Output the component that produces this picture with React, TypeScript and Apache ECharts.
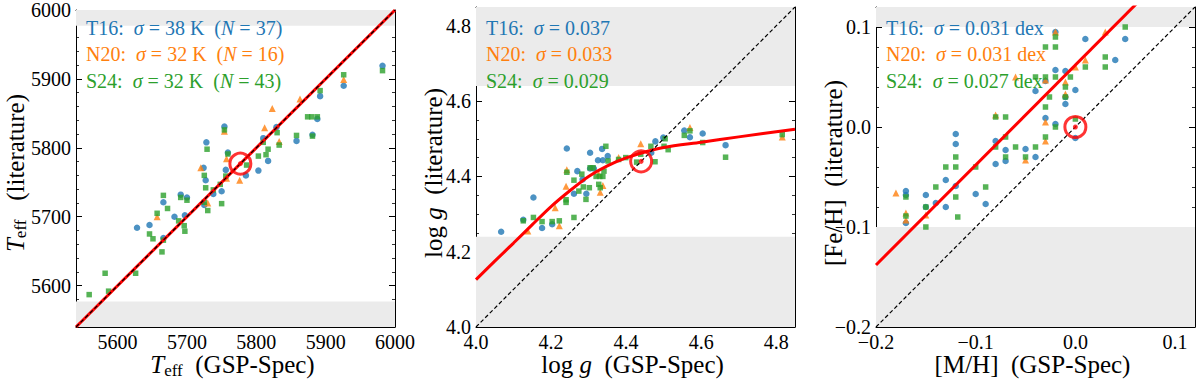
import React, { useEffect, useRef } from 'react';
import * as echarts from 'echarts';

const SERIF = 'Liberation Serif';
const BLUE = '#1f77b4';
const ORANGE = '#ff7f0e';
const GREEN = '#2ca02c';
const RED = '#ff0000';
const BAND = '#ebebeb';

// ---------- axis ranges & ticks ----------
const TEFF_RANGE = [5540, 6000];
const LOGG_RANGE = [4.0, 4.85];
const MH_RANGE = [-0.2, 0.12];
const TEFF_TICKS = [5600, 5700, 5800, 5900, 6000];
const LOGG_TICKS = [4.0, 4.2, 4.4, 4.6, 4.8];
const MH_TICKS = [-0.2, -0.1, 0.0, 0.1];
const MINOR_STEPS = [20, 0.05, 0.02];

// ---------- Sun reference & bands (outside ±) ----------
const SUN_TEFF = 5777;
const SUN_LOGG = 4.44;
const SUN_MH = 0.0;
const TEFF_BANDS = [[5540, 5577], [5977, 6000]];
const LOGG_BANDS = [[4.0, 4.24], [4.64, 4.85]];
const MH_BANDS = [[-0.2, -0.1], [0.1, 0.12]];

// ---------- Teff panel ----------
const TEFF_T16 = [[5628,5684],[5646,5688],[5666,5669],[5666,5721],[5682,5700],[5691,5732],[5700,5728],[5697,5702],[5724,5771],[5727,5753],[5728,5808],[5725,5717],[5738,5733],[5750,5737],[5754,5831],[5756,5768],[5759,5793],[5785,5760],[5803,5767],[5810,5814],[5817,5781],[5829,5830],[5858,5810],[5888,5842],[5881,5819],[5892,5875],[5926,5890],[5982,5919]];
const TEFF_N20 = [[5657,5700],[5720,5771],[5730,5720],[5754,5824],[5757,5784],[5757,5756],[5776,5753],[5812,5829],[5823,5857],[5833,5809],[5863,5871],[5926,5899]];
const TEFF_S24 = [[5559,5587],[5582,5618],[5587,5592],[5626,5618],[5646,5675],[5651,5668],[5664,5649],[5666,5666],[5666,5731],[5672,5712],[5657,5705],[5688,5694],[5691,5728],[5700,5724],[5696,5687],[5697,5679],[5725,5760],[5727,5742],[5729,5798],[5725,5721],[5730,5709],[5738,5739],[5748,5747],[5750,5719],[5754,5826],[5759,5791],[5756,5759],[5786,5775],[5803,5788],[5810,5808],[5814,5790],[5817,5798],[5830,5822],[5833,5804],[5858,5818],[5874,5845],[5880,5845],[5888,5845],[5881,5817],[5892,5883],[5926,5906],[5982,5912]];
const TEFF_FIT = [[5540, 5540], [6000, 6000]];

// ---------- log g panel ----------
const LOGG_T16 = [[4.067,4.253],[4.126,4.285],[4.153,4.344],[4.176,4.263],[4.203,4.273],[4.242,4.474],[4.270,4.414],[4.261,4.354],[4.284,4.392],[4.304,4.463],[4.325,4.443],[4.338,4.443],[4.336,4.473],[4.351,4.454],[4.294,4.354],[4.304,4.421],[4.314,4.421],[4.467,4.463],[4.478,4.493],[4.499,4.503],[4.555,4.522],[4.570,4.504],[4.604,4.514],[4.665,4.483]];
const LOGG_N20 = [[4.138,4.255],[4.222,4.269],[4.211,4.317],[4.242,4.418],[4.240,4.374],[4.327,4.406],[4.338,4.376],[4.331,4.358],[4.380,4.450],[4.439,4.487],[4.570,4.530],[4.816,4.505]];
const LOGG_S24 = [[4.126,4.282],[4.153,4.291],[4.176,4.280],[4.203,4.280],[4.222,4.282],[4.242,4.411],[4.261,4.390],[4.261,4.291],[4.240,4.338],[4.240,4.331],[4.274,4.361],[4.286,4.372],[4.282,4.406],[4.346,4.480],[4.352,4.441],[4.293,4.339],[4.304,4.423],[4.312,4.423],[4.302,4.370],[4.320,4.400],[4.330,4.400],[4.327,4.379],[4.331,4.370],[4.341,4.414],[4.338,4.400],[4.380,4.445],[4.399,4.450],[4.439,4.459],[4.428,4.438],[4.466,4.480],[4.477,4.439],[4.504,4.500],[4.501,4.480],[4.512,4.471],[4.555,4.509],[4.570,4.521],[4.604,4.490],[4.665,4.451],[4.816,4.511]];
const LOGG_FIT = [[4.00,4.126],[4.05,4.175],[4.10,4.223],[4.15,4.272],[4.20,4.320],[4.25,4.362],[4.30,4.400],[4.35,4.428],[4.40,4.449],[4.45,4.465],[4.50,4.477],[4.60,4.491],[4.70,4.505],[4.85,4.525]];

// ---------- [M/H] panel ----------
const MH_T16 = [[-0.17,-0.064],[-0.17,-0.068],[-0.17,-0.096],[-0.15,-0.068],[-0.15,-0.080],[-0.14,-0.076],[-0.13,-0.053],[-0.13,-0.080],[-0.12,-0.007],[-0.12,-0.017],[-0.12,-0.059],[-0.10,-0.067],[-0.09,-0.077],[-0.08,-0.014],[-0.08,-0.037],[-0.07,-0.023],[-0.07,-0.034],[-0.05,-0.022],[-0.04,-0.030],[-0.04,0.036],[-0.03,0.046],[-0.03,0.009],[-0.02,0.095],[-0.02,0.057],[-0.02,0.003],[-0.01,0.056],[-0.01,0.030],[-0.01,0.023],[0.00,0.037],[0.00,-0.011],[0.01,0.088],[0.04,0.067],[0.05,0.088]];
const MH_N20 = [[-0.18,-0.066],[-0.17,-0.086],[-0.17,-0.093],[-0.15,-0.088],[-0.08,0.012],[-0.06,0.050],[-0.05,-0.033],[-0.03,0.047],[-0.03,0.005],[-0.03,-0.014],[-0.02,0.095],[-0.01,0.045],[-0.01,0.033],[0.00,0.060],[0.01,0.067],[0.03,0.095]];
const MH_S24 = [[-0.17,-0.070],[-0.17,-0.089],[-0.15,-0.080],[-0.15,-0.100],[-0.14,-0.060],[-0.13,-0.040],[-0.12,-0.030],[-0.12,-0.040],[-0.12,-0.070],[-0.118,-0.090],[-0.10,-0.040],[-0.09,-0.060],[-0.08,0.010],[-0.08,-0.020],[-0.07,0.010],[-0.07,-0.010],[-0.07,-0.030],[-0.06,-0.020],[-0.05,-0.030],[-0.04,-0.020],[-0.04,0.050],[-0.03,0.080],[-0.03,0.050],[-0.03,0.020],[-0.03,-0.010],[-0.026,0.030],[-0.02,0.090],[-0.02,0.080],[-0.02,0.050],[-0.02,0.000],[-0.01,0.040],[-0.01,0.030],[-0.005,0.050],[0.00,0.008],[0.01,0.060],[0.03,0.070],[0.03,0.060],[0.05,0.100]];
const MH_FIT = [[-0.2, -0.138], [0.12, 0.182]];

// ---------- legend texts ----------
const TEFF_LEGEND = [
  ['T16', '38 K', '37'],
  ['N20', '32 K', '16'],
  ['S24', '32 K', '43'],
];
const LOGG_LEGEND = [['T16', '0.037'], ['N20', '0.033'], ['S24', '0.029']];
const MH_LEGEND = [['T16', '0.031 dex'], ['N20', '0.031 dex'], ['S24', '0.027 dex']];
const LEGEND_COLORS = [BLUE, ORANGE, GREEN];

// ---------- layout ----------
const GRID_LEFTS = [76, 476, 876];
const GRID_TOP = 7;
const GRID_W = 319;
const GRID_H = 320;

const fmtPlain = (v: number) => String(v);
const fmt1 = (v: number) => v.toFixed(1);
const fmtMinus = (v: number) => (v < -1e-9 ? '\u2212' : '') + Math.abs(v).toFixed(1);

const PANELS = [
  { range: TEFF_RANGE, ticks: TEFF_TICKS, fmt: fmtPlain, t16: TEFF_T16, n20: TEFF_N20, s24: TEFF_S24, fit: TEFF_FIT, smooth: false, sun: SUN_TEFF, bands: TEFF_BANDS,
    xTitle: '{i|T}{s|eff}{n|  (GSP-Spec)}', yTitle: '{i|T}{s|eff}{n|   (literature)}', yTitleX: 15,
    legend: TEFF_LEGEND.map(([a, s, n]) => `{n|${a}:  }{i|σ}{n| = ${s}  (}{i|N}{n| = ${n})}`) },
  { range: LOGG_RANGE, ticks: LOGG_TICKS, fmt: fmt1, t16: LOGG_T16, n20: LOGG_N20, s24: LOGG_S24, fit: LOGG_FIT, smooth: 0.3, sun: SUN_LOGG, bands: LOGG_BANDS,
    xTitle: '{n|log }{i|g}{n|  (GSP-Spec)}', yTitle: '{n|log }{i|g}{n|  (literature)}', yTitleX: 433,
    legend: LOGG_LEGEND.map(([a, s]) => `{n|${a}:  }{i|σ}{n| = ${s}}`) },
  { range: MH_RANGE, ticks: MH_TICKS, fmt: fmtMinus, t16: MH_T16, n20: MH_N20, s24: MH_S24, fit: MH_FIT, smooth: false, sun: SUN_MH, bands: MH_BANDS,
    xTitle: '{n|[M/H]  (GSP-Spec)}', yTitle: '{n|[Fe/H]  (literature)}', yTitleX: 833,
    legend: MH_LEGEND.map(([a, s]) => `{n|${a}:  }{i|σ}{n| = ${s}}`) },
];

function richStyles(size: number, color: string) {
  const lh = Math.round(size * 0.96);
  const sub = Math.round(size * 0.68);
  const drop = Math.round(size * 0.36);
  return {
    n: { fontFamily: SERIF, fontSize: size, fill: color, color, lineHeight: lh, verticalAlign: 'middle' },
    i: { fontFamily: SERIF, fontSize: size, fill: color, color, fontStyle: 'italic', lineHeight: lh, verticalAlign: 'middle' },
    s: { fontFamily: SERIF, fontSize: sub, fill: color, color, lineHeight: drop, verticalAlign: 'top', padding: [drop, 0, 0, 0] },
  };
}

function buildAxes(dim: 'x' | 'y', g: number, p: any) {
  const common = {
    gridIndex: g,
    type: 'value',
    min: p.range[0],
    max: p.range[1],
    splitLine: { show: false },
  };
  const lineOn = { show: true, onZero: false, lineStyle: { color: '#000', width: 1 } };
  const lineOff = { show: false, onZero: false };
  const posA = dim === 'x' ? 'bottom' : 'left';
  const posB = dim === 'x' ? 'top' : 'right';
  const majorTick = { show: true, inside: true, length: 6, customValues: p.ticks, lineStyle: { color: '#000', width: 1 } };
  const minorTick = { show: true, inside: true, length: 3, lineStyle: { color: '#000', width: 0.8 } };
  return [
    {
      ...common, position: posA, axisLine: lineOn, axisTick: majorTick,
      axisLabel: { show: true, customValues: p.ticks, formatter: p.fmt, fontFamily: SERIF, fontSize: 20, color: '#000', margin: 5 },
    },
    { ...common, position: posA, interval: MINOR_STEPS[g], axisLine: lineOff, axisTick: minorTick, axisLabel: { show: false } },
    { ...common, position: posB, axisLine: lineOn, axisTick: majorTick, axisLabel: { show: false } },
    { ...common, position: posB, interval: MINOR_STEPS[g], axisLine: lineOff, axisTick: minorTick, axisLabel: { show: false } },
  ];
}

function buildOption() {
  const grid = GRID_LEFTS.map((l) => ({ left: l, top: GRID_TOP, width: GRID_W, height: GRID_H, containLabel: false }));
  const xAxis: any[] = [];
  const yAxis: any[] = [];
  const series: any[] = [];
  const graphic: any[] = [];

  PANELS.forEach((p, g) => {
    xAxis.push(...buildAxes('x', g, p));
    yAxis.push(...buildAxes('y', g, p));
    const ax = { xAxisIndex: g * 4, yAxisIndex: g * 4 };
    series.push({
      type: 'line', ...ax, data: [], silent: true, z: 1,
      markArea: {
        silent: true,
        itemStyle: { color: BAND },
        data: p.bands.map(([a, b]: number[]) => [{ xAxis: p.range[0], yAxis: a }, { xAxis: p.range[1], yAxis: b }]),
      },
    });
    series.push({ type: 'scatter', ...ax, data: p.t16, symbol: 'circle', symbolSize: 6.5, itemStyle: { color: BLUE }, z: 2, silent: true });
    series.push({ type: 'scatter', ...ax, data: p.n20, symbol: 'triangle', symbolSize: 7, itemStyle: { color: ORANGE }, z: 2, silent: true });
    series.push({ type: 'scatter', ...ax, data: p.s24, symbol: 'rect', symbolSize: 5.5, itemStyle: { color: GREEN }, z: 2, silent: true });
    series.push({ type: 'line', ...ax, data: p.fit, smooth: p.smooth, symbol: 'none', showSymbol: false, lineStyle: { color: RED, width: 3 }, z: 3, silent: true, clip: true });
    series.push({
      type: 'line', ...ax, data: [[p.range[0], p.range[0]], [p.range[1], p.range[1]]], symbol: 'none', showSymbol: false,
      lineStyle: { color: '#000', width: 1.2, type: [4, 2.5] }, z: 4, silent: true,
    });
    series.push({ type: 'scatter', ...ax, data: [[p.sun, p.sun]], symbol: 'circle', symbolSize: 21, itemStyle: { color: 'rgba(255,255,255,0)', borderColor: RED, borderWidth: 3 }, z: 5, silent: true });
    series.push({ type: 'scatter', ...ax, data: [[p.sun, p.sun]], symbol: 'circle', symbolSize: 5, itemStyle: { color: RED }, z: 5, silent: true });

    // legend-like annotations
    p.legend.forEach((txt: string, k: number) => {
      const c = LEGEND_COLORS[k];
      graphic.push({
        type: 'text', x: GRID_LEFTS[g] + 10, y: 27.5 + k * 26.5, z: 10,
        style: { text: txt, rich: richStyles(20, c), fill: c, align: 'left', verticalAlign: 'middle', textAlign: 'left', textVerticalAlign: 'middle' },
      });
    });
    // axis titles
    graphic.push({
      type: 'text', x: GRID_LEFTS[g] + GRID_W / 2 - 3, y: 364.5, z: 10,
      style: { text: p.xTitle, rich: richStyles(25, '#000'), fill: '#000', align: 'center', verticalAlign: 'middle', textAlign: 'center', textVerticalAlign: 'middle' },
    });
    graphic.push({
      type: 'text', x: p.yTitleX, y: 173, rotation: Math.PI / 2, z: 10,
      style: { text: p.yTitle, rich: richStyles(25, '#000'), fill: '#000', align: 'center', verticalAlign: 'middle', textAlign: 'center', textVerticalAlign: 'middle' },
    });
  });

  return { animation: false, backgroundColor: '#fff', textStyle: { fontFamily: SERIF }, grid, xAxis, yAxis, series, graphic };
}

export default function App() {
  const ref = useRef<HTMLDivElement>(null);
  useEffect(() => {
    if (!ref.current) return;
    const chart = echarts.init(ref.current, null, { renderer: 'svg' });
    chart.setOption(buildOption() as any);
    return () => chart.dispose();
  }, []);
  return <div ref={ref} style={{ position: 'fixed', left: 0, top: 0, width: 1200, height: 379, background: '#fff' }} />;
}
